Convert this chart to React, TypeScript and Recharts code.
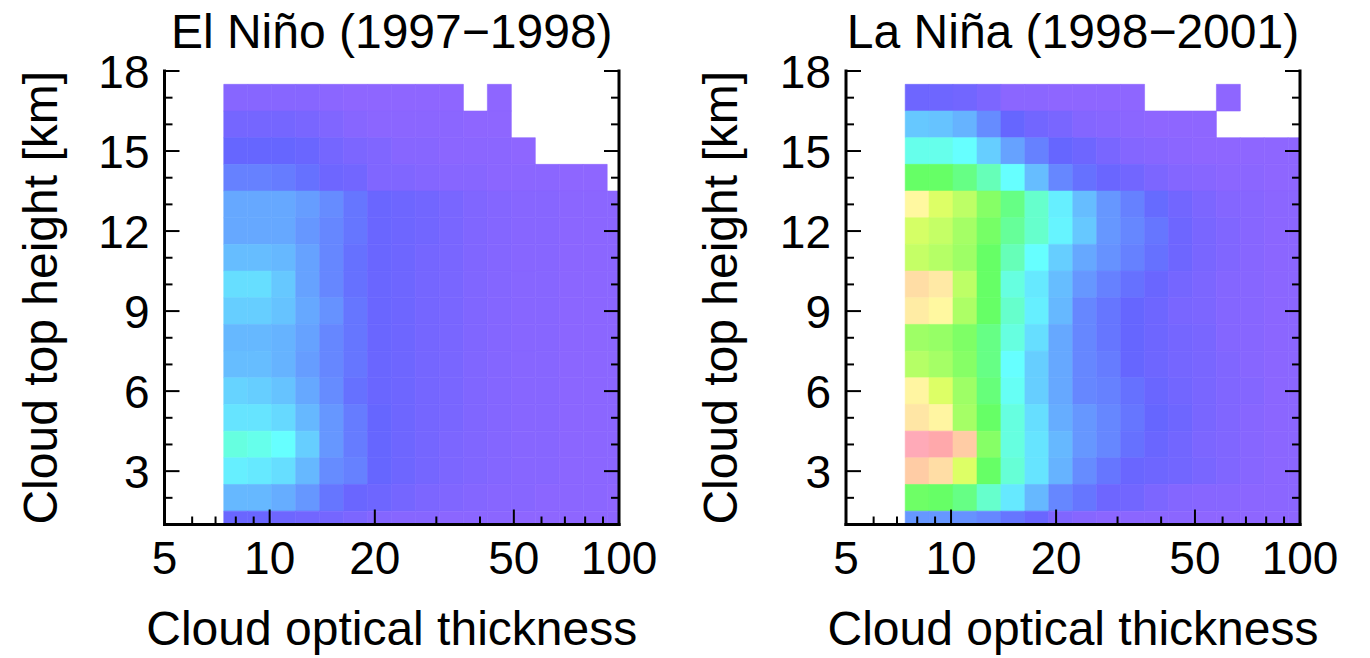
import React from 'react';
import { ComposedChart, XAxis, YAxis, ReferenceArea, Scatter } from 'recharts';

const FONT = '"Liberation Sans", Arial, Helvetica, sans-serif';

// Optical-thickness bin edges (log-spaced), 17 bins
const opticalEdges = [7.39, 8.65, 10.13, 11.87, 13.9, 16.28, 19.06, 22.33, 26.15, 30.62, 35.86, 42.0, 49.18, 57.6, 67.45, 78.99, 92.51, 108.3];
// Cloud-top height bin centres [km], listed top row first
const heightBins = [17, 16, 15, 14, 13, 12, 11, 10, 9, 8, 7, 6, 5, 4, 3, 2, 1];

const xMajorTicks = [5, 10, 20, 50, 100];
const xMinorTicks = [6, 7, 8, 9, 30, 40, 60, 70, 80, 90];
const yMajorTicks = [3, 6, 9, 12, 15, 18];
const yMinorTicks = [2, 4, 5, 7, 8, 10, 11, 13, 14, 16, 17];

// Relative joint frequency (0-100), rows follow heightBins, columns follow opticalEdges
const elNinoFreq: (number | null)[][] = [
  [3, 3, 3, 3, 2, 1, 1, 1, 1, 1, null, 1, null, null, null, null, null],
  [8, 8, 8, 7, 5, 3, 2, 2, 2, 2, 1, 1, null, null, null, null, null],
  [12, 12, 12, 11, 8, 6, 5, 3, 3, 2, 2, 2, 1, null, null, null, null],
  [17, 17, 16, 14, 10, 9, 5, 5, 4, 3, 3, 2, 2, 2, 1, 1, null],
  [24, 24, 24, 22, 19, 15, 11, 10, 9, 7, 5, 4, 3, 3, 2, 2, 2],
  [24, 24, 24, 21, 18, 15, 11, 10, 9, 7, 5, 4, 3, 3, 2, 2, 2],
  [28, 28, 27, 23, 18, 14, 11, 10, 8, 7, 5, 4, 3, 3, 2, 2, 2],
  [34, 34, 30, 23, 18, 14, 11, 10, 8, 7, 5, 4, 3, 3, 2, 2, 2],
  [31, 31, 29, 24, 20, 15, 11, 10, 8, 7, 5, 4, 3, 3, 2, 2, 2],
  [27, 27, 26, 23, 18, 15, 11, 10, 8, 7, 5, 4, 3, 3, 2, 2, 2],
  [28, 28, 26, 22, 18, 15, 11, 10, 8, 7, 5, 4, 3, 3, 2, 2, 2],
  [32, 31, 29, 24, 19, 14, 11, 10, 8, 7, 5, 4, 3, 3, 2, 2, 2],
  [35, 35, 33, 27, 21, 16, 12, 10, 8, 7, 5, 4, 3, 3, 2, 2, 2],
  [43, 42, 40, 31, 21, 16, 12, 10, 8, 6, 5, 4, 3, 3, 2, 2, 2],
  [37, 36, 34, 27, 19, 17, 12, 10, 8, 6, 5, 4, 3, 3, 2, 2, 2],
  [27, 27, 25, 21, 15, 11, 10, 8, 6, 5, 4, 3, 3, 2, 2, 2, 1],
  [11, 11, 10, 9, 8, 6, 4, 3, 3, 2, 2, 2, 1, 1, 1, 1, 1],
];

const laNinaFreq: (number | null)[][] = [
  [10, 10, 9, 6, 2, 2, 1, 1, 1, 1, null, null, null, 1, null, null, null],
  [30, 29, 26, 19, 12, 9, 7, 4, 3, 2, 1, 1, 1, null, null, null, null],
  [42, 42, 40, 31, 23, 17, 12, 10, 7, 4, 3, 2, 1, 1, 1, 1, 1],
  [55, 55, 52, 47, 40, 28, 18, 14, 11, 9, 6, 4, 3, 2, 2, 1, 1],
  [75, 70, 66, 59, 52, 45, 37, 28, 21, 17, 13, 9, 6, 4, 3, 2, 2],
  [69, 67, 63, 57, 50, 45, 38, 30, 21, 18, 15, 10, 7, 5, 3, 2, 2],
  [67, 65, 62, 55, 47, 40, 31, 24, 20, 17, 14, 10, 7, 5, 3, 2, 2],
  [84, 80, 66, 55, 43, 36, 28, 21, 17, 14, 11, 8, 6, 4, 3, 2, 2],
  [79, 75, 64, 55, 45, 37, 27, 18, 15, 12, 10, 7, 6, 4, 3, 2, 2],
  [62, 61, 58, 52, 43, 34, 24, 18, 15, 12, 10, 8, 7, 4, 3, 2, 2],
  [65, 63, 59, 52, 40, 31, 24, 18, 16, 12, 10, 8, 7, 5, 3, 2, 2],
  [76, 70, 62, 53, 41, 31, 24, 18, 17, 14, 11, 9, 7, 5, 4, 2, 2],
  [81, 76, 63, 55, 43, 34, 25, 21, 18, 15, 12, 10, 7, 5, 3, 2, 2],
  [100, 96, 88, 59, 43, 35, 27, 21, 18, 14, 11, 9, 6, 5, 3, 2, 2],
  [88, 84, 70, 55, 44, 35, 26, 19, 15, 11, 10, 9, 7, 5, 3, 2, 2],
  [56, 55, 52, 45, 36, 27, 18, 15, 10, 9, 6, 4, 3, 3, 2, 2, 2],
  [21, 21, 20, 18, 15, 11, 5, 3, 2, 2, 2, 2, 1, 1, 1, 1, 1],
];

// Pastel rainbow colour scale: low = violet, high = pink
const colorStops: [number, string][] = [
  [0, '#9266FF'],
  [5, '#8066FF'],
  [10, '#6E66FF'],
  [12, '#6666FF'],
  [40, '#66FFFF'],
  [55, '#66FF66'],
  [70, '#DDFF66'],
  [75, '#FFF8A0'],
  [80, '#FFE9A5'],
  [84, '#FFDDA5'],
  [88, '#FFCCA5'],
  [95, '#FFA8A8'],
  [100, '#FFAAB8'],
];

function hexToRgb(h: string) {
  const n = parseInt(h.slice(1), 16);
  return [(n >> 16) & 255, (n >> 8) & 255, n & 255];
}

function colorFor(v: number): string {
  for (let i = 1; i < colorStops.length; i++) {
    const [v0, c0] = colorStops[i - 1];
    const [v1, c1] = colorStops[i];
    if (v <= v1 || i === colorStops.length - 1) {
      const t = Math.max(0, Math.min(1, (v - v0) / (v1 - v0)));
      const a = hexToRgb(c0);
      const b = hexToRgb(c1);
      const m = a.map((x, k) => Math.round(x + (b[k] - x) * t));
      return `rgb(${m[0]},${m[1]},${m[2]})`;
    }
  }
  return colorStops[0][1];
}

// The optical-thickness axis is drawn on log10 values
const lg = (v: number) => Math.log10(v);
const X_DOMAIN: [number, number] = [lg(5), lg(100)];

// Bin centres, used as the chart's data table
const binCentres = heightBins.flatMap((h) =>
  opticalEdges.slice(0, -1).map((e, c) => ({ lx: (lg(e) + lg(opticalEdges[c + 1])) / 2, h }))
);

const MAJOR_LEN = 15;
const MINOR_LEN = 8;
const TICK_FONT = 46;

type Side = 'bottom' | 'top' | 'left' | 'right';

function isMajor(side: Side, v: number) {
  if (side === 'bottom' || side === 'top') return xMajorTicks.some((m) => Math.abs(lg(m) - v) < 1e-6);
  return yMajorTicks.includes(v);
}

function makeTick(side: Side, withLabels: boolean) {
  return (props: any) => {
    const { x, y, payload } = props;
    const v = payload.value;
    const major = isMajor(side, v);
    const len = major ? MAJOR_LEN : MINOR_LEN;
    let line;
    if (side === 'bottom') line = <line x1={x} y1={y} x2={x} y2={y - len} />;
    else if (side === 'top') line = <line x1={x} y1={y} x2={x} y2={y + len} />;
    else if (side === 'left') line = <line x1={x} y1={y} x2={x + len} y2={y} />;
    else line = <line x1={x} y1={y} x2={x - len} y2={y} />;
    let label = null;
    if (withLabels && major) {
      if (side === 'bottom') {
        label = (
          <text x={x} y={y + 49} textAnchor="middle" fontSize={TICK_FONT} fontFamily={FONT} fill="#000" stroke="none">
            {Math.round(Math.pow(10, v))}
          </text>
        );
      } else if (side === 'left') {
        label = (
          <text x={x - 15} y={y + 16.5} textAnchor="end" fontSize={TICK_FONT} fontFamily={FONT} fill="#000" stroke="none">
            {v}
          </text>
        );
      }
    }
    return (
      <g stroke="#000" strokeWidth={2}>
        {line}
        {label}
      </g>
    );
  };
}

const frame = { stroke: '#000', strokeWidth: 3, strokeLinecap: 'square' as const };
const xTicksAll = [...xMajorTicks, ...xMinorTicks].sort((a, b) => a - b).map(lg);
const yTicksAll = [...yMajorTicks, ...yMinorTicks].sort((a, b) => a - b);
const noDot = () => <g />;

interface PanelProps {
  left: number;
  width: number;
  leftAxisW: number;
  rightAxisW: number;
  freq: (number | null)[][];
}

function Panel({ left, width, leftAxisW, rightAxisW, freq }: PanelProps) {
  const cells: React.ReactNode[] = [];
  freq.forEach((row, r) => {
    const h = heightBins[r];
    row.forEach((v, c) => {
      if (v === null) return;
      const col = colorFor(v);
      cells.push(
        <ReferenceArea
          key={`${r}-${c}`}
          xAxisId="b"
          yAxisId="l"
          x1={lg(opticalEdges[c])}
          x2={lg(opticalEdges[c + 1])}
          y1={h - 0.5}
          y2={h + 0.5}
          fill={col}
          fillOpacity={1}
          stroke={col}
          strokeWidth={0.6}
          ifOverflow="hidden"
        />
      );
    });
  });

  return (
    <div style={{ position: 'absolute', left, top: 0 }}>
      <ComposedChart width={width} height={658} data={binCentres} margin={{ top: 71, right: 0, bottom: 0, left: 0 }}>
        {cells}
        <Scatter xAxisId="b" yAxisId="l" dataKey="h" shape={noDot} isAnimationActive={false} />
        <Scatter xAxisId="t" yAxisId="r" dataKey="h" shape={noDot} isAnimationActive={false} />
        <XAxis
          xAxisId="b"
          dataKey="lx"
          type="number"
          domain={X_DOMAIN}
          allowDataOverflow
          ticks={xTicksAll}
          interval={0}
          height={133.5}
          tickSize={0}
          tickMargin={0}
          tickLine={false}
          axisLine={frame}
          tick={makeTick('bottom', true)}
        />
        <XAxis
          xAxisId="t"
          dataKey="lx"
          orientation="top"
          type="number"
          domain={X_DOMAIN}
          allowDataOverflow
          ticks={xTicksAll}
          interval={0}
          height={0}
          tickSize={0}
          tickMargin={0}
          tickLine={false}
          axisLine={frame}
          tick={makeTick('top', false)}
        />
        <YAxis
          yAxisId="l"
          dataKey="h"
          type="number"
          domain={[1, 18]}
          allowDataOverflow
          ticks={yTicksAll}
          interval={0}
          width={leftAxisW}
          tickSize={0}
          tickMargin={0}
          tickLine={false}
          axisLine={frame}
          tick={makeTick('left', true)}
        />
        <YAxis
          yAxisId="r"
          dataKey="h"
          orientation="right"
          type="number"
          domain={[1, 18]}
          allowDataOverflow
          ticks={yTicksAll}
          interval={0}
          width={rightAxisW}
          tickSize={0}
          tickMargin={0}
          tickLine={false}
          axisLine={frame}
          tick={makeTick('right', false)}
        />
      </ComposedChart>
    </div>
  );
}

const TITLE_FONT = 48;

export default function App() {
  const plotTop = 71;
  const plotBottom = 524.5;
  const midY = (plotTop + plotBottom) / 2;
  const leftCx = (164.5 + 619) / 2;
  const rightCx = (846 + 1300) / 2;
  return (
    <div style={{ position: 'absolute', left: 0, top: 0, width: 1370, height: 658, background: '#fff', overflow: 'hidden' }}>
      <Panel left={0} width={680} leftAxisW={164.5} rightAxisW={61} freq={elNinoFreq} />
      <Panel left={680} width={690} leftAxisW={166} rightAxisW={70} freq={laNinaFreq} />
      <svg width={1370} height={658} style={{ position: 'absolute', left: 0, top: 0, pointerEvents: 'none' }}>
        <g fontFamily={FONT} fontSize={TITLE_FONT} fill="#000">
          <text x={leftCx} y={48} textAnchor="middle">El Niño (1997−1998)</text>
          <text x={rightCx} y={48} textAnchor="middle">La Niña (1998−2001)</text>
          <text x={leftCx} y={645} textAnchor="middle">Cloud optical thickness</text>
          <text x={rightCx} y={645} textAnchor="middle">Cloud optical thickness</text>
          <text x={57} y={midY} textAnchor="middle" transform={`rotate(-90 57 ${midY})`}>Cloud top height [km]</text>
          <text x={737} y={midY} textAnchor="middle" transform={`rotate(-90 737 ${midY})`}>Cloud top height [km]</text>
        </g>
      </svg>
    </div>
  );
}
